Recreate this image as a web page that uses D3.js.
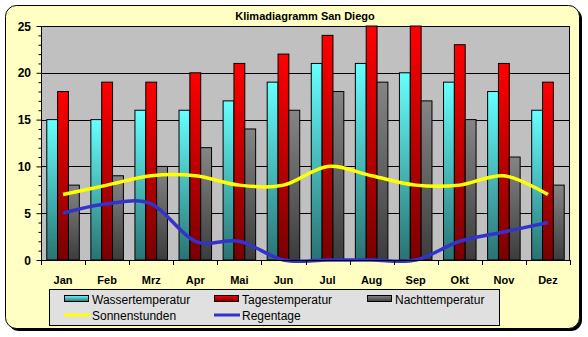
<!DOCTYPE html>
<html><head><meta charset="utf-8">
<script src="https://cdn.jsdelivr.net/npm/d3@7"></script>
<style>body{margin:0;background:#fff}svg{display:block}text{font-family:Arial,"Liberation Sans",sans-serif}</style>
</head><body>
<script>
const months = ["Jan","Feb","Mrz","Apr","Mai","Jun","Jul","Aug","Sep","Okt","Nov","Dez"];
const wasser = [15,15,16,16,17,19,21,21,20,19,18,16];
const tages  = [18,19,19,20,21,22,24,25,25,23,21,19];
const nacht  = [8,9,10,12,14,16,18,19,17,15,11,8];
const sonne  = [7,8,9,9,8,8,10,9,8,8,9,7];
const regen  = [5,6,6,2,2,0,0,0,0,2,3,4];
const yTicks = [0,5,10,15,20,25];
const title = "Klimadiagramm San Diego";

const W=588,H=337;
const svg=d3.select("body").append("svg").attr("width",W).attr("height",H);
const defs=svg.append("defs");
function grad(id,top,bot){
  const g=defs.append("linearGradient").attr("id",id).attr("x1",0).attr("y1",0).attr("x2",0).attr("y2",1);
  g.append("stop").attr("offset","0%").attr("stop-color",top);
  g.append("stop").attr("offset","100%").attr("stop-color",bot);
}
grad("gC","#66ffff","#2a7272");
grad("gR","#ff0000","#780000");
grad("gG","#858585","#3c3c3c");

// frame
svg.append("rect").attr("x",8).attr("y",8).attr("width",574).attr("height",323).attr("rx",11).attr("fill","#000");
svg.append("rect").attr("x",5.5).attr("y",5.5).attr("width",574).attr("height",323).attr("rx",11)
  .attr("fill","#ffffc4").attr("stroke","#000").attr("stroke-width",1);

const L=41,R=570,T=26,B=260;
const x=d3.scaleBand().domain(months).range([L,R]).padding(0);
const y=d3.scaleLinear().domain([0,25]).range([B,T]);

svg.append("rect").attr("x",L).attr("y",T).attr("width",R-L).attr("height",B-T).attr("fill","#c0c0c0");
// gridlines
svg.append("g").selectAll("line").data(yTicks.filter(d=>d>0)).join("line")
  .attr("x1",L).attr("x2",R).attr("y1",d=>Math.round(y(d))+0.5).attr("y2",d=>Math.round(y(d))+0.5)
  .attr("stroke","#000");

// bars
const bw=x.bandwidth()*0.246;
const off=(x.bandwidth()-3*bw)/2;
const series=[{v:wasser,f:"url(#gC)"},{v:tages,f:"url(#gR)"},{v:nacht,f:"url(#gG)"}];
series.forEach((s,si)=>{
  svg.append("g").selectAll("rect").data(s.v).join("rect")
    .attr("x",(d,i)=>x(months[i])+off+si*bw)
    .attr("y",d=>y(d))
    .attr("width",bw).attr("height",d=>y(0)-y(d))
    .attr("fill",s.f).attr("stroke","#000").attr("stroke-width",1);
});

// lines
const line=d3.line().x((d,i)=>x(months[i])+x.bandwidth()/2).y(d=>y(d)).curve(d3.curveCardinal.tension(0));
svg.append("path").datum(sonne).attr("d",line).attr("fill","none").attr("stroke","#ffff00").attr("stroke-width",3.5);
svg.append("path").datum(regen).attr("d",line).attr("fill","none").attr("stroke","#3333cc").attr("stroke-width",3.5);

// plot border
svg.append("line").attr("x1",L+0.5).attr("x2",L+0.5).attr("y1",T).attr("y2",B+0.5).attr("stroke","#000");
svg.append("line").attr("x1",R-0.5).attr("x2",R-0.5).attr("y1",T).attr("y2",B+0.5).attr("stroke","#000");
svg.append("line").attr("x1",L).attr("x2",R).attr("y1",B+0.5).attr("y2",B+0.5).attr("stroke","#000");

// y axis
const yAxis=d3.axisLeft(y).tickValues(d3.range(0,26,1)).tickSize(3).tickFormat("");
const ya=svg.append("g").attr("transform",`translate(${L+0.5},0)`).call(yAxis);
ya.select(".domain").remove();
ya.selectAll(".tick line").attr("stroke","#000").attr("x2",d=>d%5===0?-5:-3);
svg.append("g").selectAll("text").data(yTicks).join("text")
  .attr("x",31).attr("y",d=>y(d)+4.5).attr("text-anchor","end")
  .attr("font-size",12).attr("font-weight","bold").text(d=>d);

// x axis ticks at boundaries
svg.append("g").selectAll("line").data(d3.range(0,13)).join("line")
  .attr("x1",i=>Math.round(L+i*x.bandwidth())+0.5).attr("x2",i=>Math.round(L+i*x.bandwidth())+0.5)
  .attr("y1",B).attr("y2",B+5).attr("stroke","#000");
svg.append("g").selectAll("text").data(months).join("text")
  .attr("x",d=>x(d)+x.bandwidth()/2).attr("y",284).attr("text-anchor","middle")
  .attr("font-size",11).attr("font-weight","bold").text(d=>d);

// title
svg.append("text").attr("x",305).attr("y",20).attr("text-anchor","middle")
  .attr("font-size",11).attr("font-weight","bold").text(title);

// legend
svg.append("rect").attr("x",49.5).attr("y",289.5).attr("width",450).attr("height",36).attr("fill","#e0e0e0").attr("stroke","#000");
const leg=[
  {n:"Wassertemperatur",t:"bar",f:"url(#gC)",x:64,y:299},
  {n:"Tagestemperatur",t:"bar",f:"url(#gR)",x:214,y:299},
  {n:"Nachttemperatur",t:"bar",f:"url(#gG)",x:367,y:299},
  {n:"Sonnenstunden",t:"line",f:"#ffff00",x:64,y:315},
  {n:"Regentage",t:"line",f:"#3333cc",x:214,y:315}
];
leg.forEach(d=>{
  if(d.t==="bar") svg.append("rect").attr("x",d.x+0.5).attr("y",d.y-3.5).attr("width",24).attr("height",6).attr("fill",d.f).attr("stroke","#000");
  else svg.append("line").attr("x1",d.x).attr("x2",d.x+26).attr("y1",d.y).attr("y2",d.y).attr("stroke",d.f).attr("stroke-width",3);
  svg.append("text").attr("x",d.x+28).attr("y",d.y+4.5).attr("font-size",12).text(d.n);
});
</script>
</body></html>
